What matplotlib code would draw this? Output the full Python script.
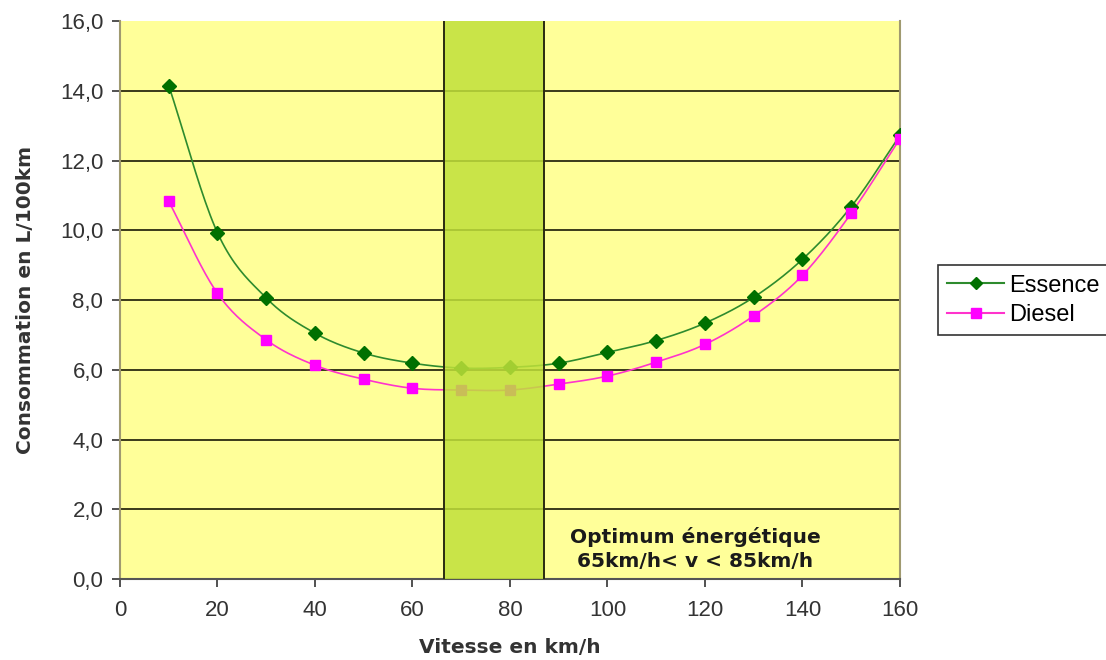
import numpy as np
import matplotlib
matplotlib.use("Agg")
import matplotlib.pyplot as plt
from matplotlib.ticker import FuncFormatter

plt.rcParams['font.family'] = ['Liberation Sans', 'DejaVu Sans']

# Données
vitesses = [10, 20, 30, 40, 50, 60, 70, 80, 90, 100, 110, 120, 130, 140, 150, 160]
essence = [14.15, 9.93, 8.06, 7.05, 6.48, 6.19, 6.05, 6.07, 6.19, 6.5, 6.84, 7.34, 8.08, 9.17, 10.68, 12.72]
diesel = [10.83, 8.19, 6.86, 6.13, 5.73, 5.47, 5.42, 5.42, 5.59, 5.82, 6.22, 6.73, 7.55, 8.71, 10.49, 12.63]

# Zone optimum (telle que dessinée)
zone_min, zone_max = 66.4, 86.9
texte_zone = "Optimum énergétique\n65km/h< v < 85km/h"


def lisser(x, y, n=20):
    """Courbe lissée type Excel (Catmull-Rom) pour le tracé uniquement."""
    x = np.asarray(x, float)
    y = np.asarray(y, float)
    px = np.concatenate([[2 * x[0] - x[1]], x, [2 * x[-1] - x[-2]]])
    py = np.concatenate([[2 * y[0] - y[1]], y, [2 * y[-1] - y[-2]]])
    xs, ys = [], []
    t = np.linspace(0, 1, n, endpoint=False)
    for i in range(1, len(px) - 2):
        for p, out in ((px, xs), (py, ys)):
            p0, p1, p2, p3 = p[i - 1], p[i], p[i + 1], p[i + 2]
            out.extend(0.5 * (2 * p1 + (-p0 + p2) * t
                              + (2 * p0 - 5 * p1 + 4 * p2 - p3) * t ** 2
                              + (-p0 + 3 * p1 - 3 * p2 + p3) * t ** 3))
    xs.append(x[-1])
    ys.append(y[-1])
    return np.array(xs), np.array(ys)


fig = plt.figure(figsize=(11.06, 6.6), dpi=100)
ax = fig.add_axes([0.1085, 0.1227, 0.7052, 0.8453])
ax.set_facecolor('#ffff99')

for yv in range(2, 16, 2):
    ax.axhline(yv, color='#3a3a1a', linewidth=1.4, zorder=1)

xe, ye = lisser(vitesses, essence)
xd, yd = lisser(vitesses, diesel)
ax.plot(xe, ye, color='#2e8b2e', linewidth=1.2, zorder=3)
ax.plot(xd, yd, color='#ff33cc', linewidth=1.2, zorder=3)
ax.plot(vitesses, essence, linestyle='none', marker='D', markersize=7,
        color='#007000', zorder=4)
ax.plot(vitesses, diesel, linestyle='none', marker='s', markersize=7,
        color='#ff00ff', zorder=4)

# Légende (proxies avec ligne + marqueur)
h1, = ax.plot([], [], color='#2e8b2e', marker='D', markersize=6,
              markerfacecolor='#007000', markeredgecolor='#007000', label='Essence')
h2, = ax.plot([], [], color='#ff33cc', marker='s', markersize=7,
              markerfacecolor='#ff00ff', markeredgecolor='#ff00ff', label='Diesel')
leg = fig.legend(handles=[h1, h2], loc='center left', bbox_to_anchor=(0.848, 0.545),
                 frameon=True, fancybox=False, fontsize=17, handlelength=2.4,
                 borderpad=0.4, labelspacing=0.3, handletextpad=0.2,
                 borderaxespad=0)
leg.get_frame().set_edgecolor('black')
leg.get_frame().set_linewidth(1.2)

# Zone optimum
ax.axvspan(zone_min, zone_max, facecolor='#c0e03a', alpha=0.85, zorder=5,
           edgecolor='none')
ax.axvline(zone_min, color='#2a2a10', linewidth=1.4, zorder=6)
ax.axvline(zone_max, color='#2a2a10', linewidth=1.4, zorder=6)

ax.text(118, 0.86, texte_zone, ha='center', va='center', fontsize=14.5,
        fontweight='bold', color='#1a1a1a', linespacing=1.3, zorder=7,
        family='DejaVu Sans')

ax.set_xlim(0, 160)
ax.set_ylim(0, 16)
ax.set_xticks(range(0, 161, 20))
ax.set_yticks(range(0, 17, 2))
ax.yaxis.set_major_formatter(FuncFormatter(lambda v, p: f"{v:.1f}".replace('.', ',')))
ax.tick_params(axis='both', direction='out', length=6, width=1.2,
               labelsize=16, colors='#333333')
ax.tick_params(axis='x', pad=9)
ax.tick_params(axis='y', pad=6)

for cote in ['left', 'right', 'bottom']:
    ax.spines[cote].set_color('#a09a70')
    ax.spines[cote].set_linewidth(1.5)
ax.spines['bottom'].set_color('#555555')
ax.spines['top'].set_visible(False)

ax.set_xlabel("Vitesse en km/h", fontsize=14.5, fontweight='bold', color='#333333',
              labelpad=12, family='DejaVu Sans')
ax.set_ylabel("Consommation en L/100km", fontsize=14.5, fontweight='bold', color='#333333',
              labelpad=18, family='DejaVu Sans')

plt.savefig("out.png", dpi=100)
